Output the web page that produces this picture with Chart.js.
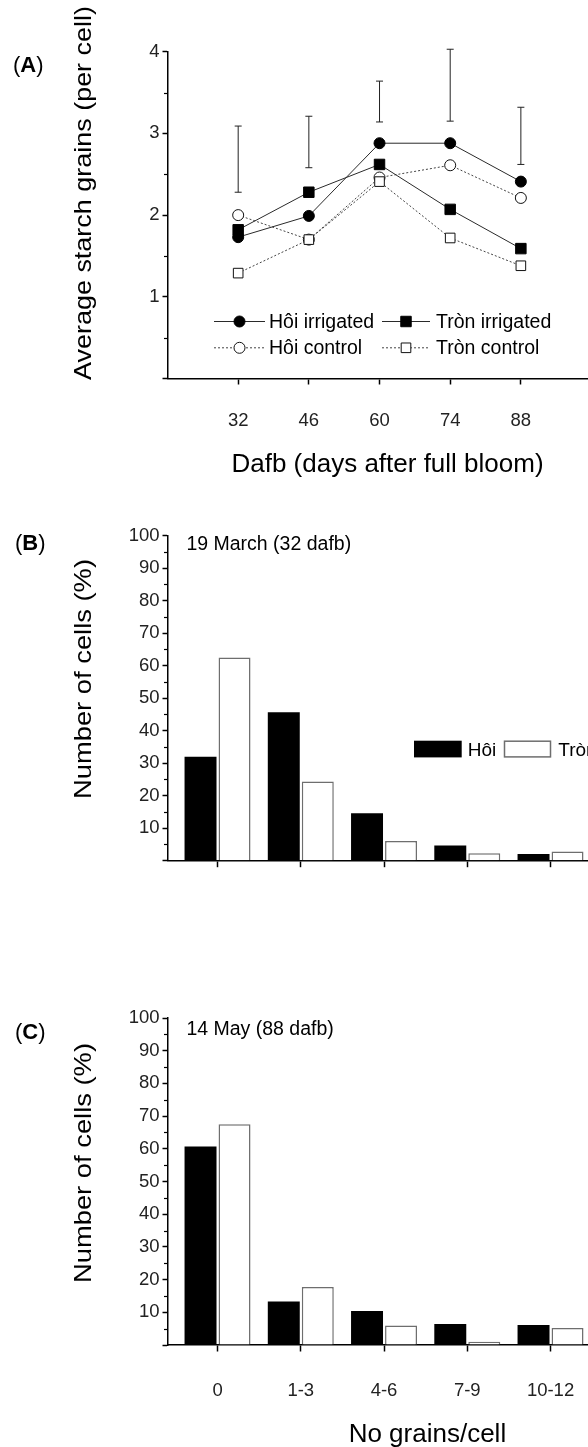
<!DOCTYPE html>
<html>
<head>
<meta charset="utf-8">
<script src="https://cdn.jsdelivr.net/npm/chart.js@4.4.1/dist/chart.umd.min.js"></script>
<style>
  html, body { margin: 0; padding: 0; background: #fff; overflow: hidden; }
  body { width: 588px; height: 1447px; position: relative; }
  canvas { position: absolute; left: 0; }
</style>
</head>
<body>
<canvas id="chart-a" width="588" height="490" style="top:0px"></canvas>
<canvas id="chart-b" width="588" height="485" style="top:490px"></canvas>
<canvas id="chart-c" width="588" height="472" style="top:975px"></canvas>
<script>
// (A) average starch grains per cell
let days = [32, 46, 60, 74, 88];
let hoiIrrigated = [1.73, 1.99, 2.88, 2.88, 2.41];
let tronIrrigated = [1.82, 2.28, 2.62, 2.07, 1.59];
let hoiControl = [2.00, 1.70, 2.46, 2.61, 2.21];
let tronControl = [1.29, 1.70, 2.41, 1.72, 1.38];
let errLow = [2.28, 2.58, 3.14, 3.15, 2.62];
let errHigh = [3.09, 3.21, 3.64, 4.03, 3.32];
let yTicksA = [0, 1, 2, 3, 4];

// (B) and (C) distribution of cells by grain count
let grainClasses = ["0", "1-3", "4-6", "7-9", "10-12"];
let hoiMarch = [32.0, 45.7, 14.6, 4.7, 2.1];
let tronMarch = [62.5, 24.4, 6.1, 2.3, 2.8];
let hoiMay = [60.7, 13.3, 10.4, 6.4, 6.1];
let tronMay = [67.5, 17.7, 6.0, 1.0, 5.2];
let yTicksBar = [0, 10, 20, 30, 40, 50, 60, 70, 80, 90, 100];


let fontFamily = "'Liberation Sans', Arial, sans-serif";
Chart.defaults.font.family = fontFamily;
Chart.defaults.color = '#222';

function xy(xs, ys) {
    return xs.map((x, i) => ({ x: x, y: ys[i] }));
}

function midpoints(ticks) {
    let out = [];
    for (let i = 1; i < ticks.length; i++) out.push((ticks[i - 1] + ticks[i]) / 2);
    return out;
}

// the x axis runs off the right edge, so no room is kept for its labels
function noSidePadding(s) {
    s.paddingLeft = 0;
    s.paddingRight = 0;
}

// small outward minor ticks between the labelled ones
let minorTicks = {
    id: 'minorTicks',
    afterDraw(chart, args, opts) {
        let ctx = chart.ctx;
        let y = chart.scales.y;
        ctx.save();
        ctx.strokeStyle = '#000';
        ctx.lineWidth = 1.2;
        opts.values.forEach(v => {
            let py = Math.round(y.getPixelForValue(v)) + 0.5;
            ctx.beginPath();
            ctx.moveTo(y.right - 3.5, py);
            ctx.lineTo(y.right, py);
            ctx.stroke();
        });
        ctx.restore();
    }
};

// titles and panel letters, positions given in page pixels
let pageText = {
    id: 'pageText',
    afterDraw(chart, args, opts) {
        let ctx = chart.ctx;
        let top = opts.top;
        ctx.save();
        ctx.fillStyle = '#000';
        ctx.textBaseline = 'alphabetic';
        opts.items.forEach(t => {
            ctx.font = t.font;
            ctx.textAlign = t.align || 'left';
            if (t.rotate) {
                // the y titles are drawn a little stretched along their length
                ctx.save();
                ctx.translate(t.x, t.y - top);
                ctx.rotate(-Math.PI / 2);
                let w = ctx.measureText(t.text).width;
                ctx.scale(t.length / w, 1);
                ctx.fillText(t.text, 0, 0);
                ctx.restore();
            } else {
                ctx.fillText(t.text, t.x, t.y - top);
            }
        });
        // "(A)" with a bold letter
        let p = opts.panel;
        ctx.textAlign = 'left';
        let x = p.x;
        let y = p.y - top;
        ctx.font = '22px ' + fontFamily;
        ctx.fillText('(', x, y);
        x += ctx.measureText('(').width;
        ctx.font = 'bold 22px ' + fontFamily;
        ctx.fillText(p.letter, x, y);
        x += ctx.measureText(p.letter).width;
        ctx.font = '22px ' + fontFamily;
        ctx.fillText(')', x, y);
        ctx.restore();
    }
};

let lineLegend = {
    id: 'lineLegend',
    afterDraw(chart, args, opts) {
        let ctx = chart.ctx;
        opts.entries.forEach(e => {
            let ds = chart.data.datasets[e.index];
            ctx.save();
            ctx.strokeStyle = ds.borderColor;
            ctx.lineWidth = ds.borderWidth;
            ctx.setLineDash(ds.borderDash || []);
            ctx.beginPath();
            ctx.moveTo(e.x1, e.y + 0.5);
            ctx.lineTo(e.x2, e.y + 0.5);
            ctx.stroke();
            ctx.setLineDash([]);
            ctx.fillStyle = ds.pointBackgroundColor;
            ctx.strokeStyle = ds.pointBorderColor;
            ctx.lineWidth = ds.pointBorderWidth;
            Chart.helpers.drawPoint(ctx, {
                pointStyle: ds.pointStyle,
                radius: ds.pointRadius,
                rotation: 0,
                borderWidth: ds.pointBorderWidth
            }, (e.x1 + e.x2) / 2, e.y + 0.5);
            ctx.fillStyle = '#000';
            ctx.font = opts.font;
            ctx.textAlign = 'left';
            ctx.textBaseline = 'alphabetic';
            ctx.fillText(ds.label, e.tx, e.ty);
            ctx.restore();
        });
    }
};

let barLegend = {
    id: 'barLegend',
    afterDraw(chart, args, opts) {
        if (!opts.entries) return;
        let ctx = chart.ctx;
        let top = opts.top;
        opts.entries.forEach(e => {
            let ds = chart.data.datasets[e.index];
            ctx.save();
            ctx.fillStyle = ds.backgroundColor;
            ctx.fillRect(e.x, e.y - top, e.w, e.h);
            if (ds.borderWidth) {
                ctx.strokeStyle = ds.borderColor;
                ctx.lineWidth = ds.borderWidth;
                ctx.strokeRect(e.x + 0.5, e.y - top + 0.5, e.w - 1, e.h - 1);
            }
            ctx.fillStyle = '#000';
            ctx.font = opts.font;
            ctx.textBaseline = 'alphabetic';
            ctx.fillText(ds.label, e.tx, e.ty - top);
            ctx.restore();
        });
    }
};


// ---------- (A) ----------
let errData = [];
days.forEach((d, i) => {
    errData.push({ x: d, y: errLow[i] }, { x: d, y: errHigh[i] }, { x: d, y: null });
});

let lineConfig = {
    type: 'line',
    data: {
        datasets: [
            {
                label: 'Hôi irrigated',
                data: xy(days, hoiIrrigated),
                borderColor: '#2a2a2a',
                borderWidth: 1,
                lineTension: 0,
                pointStyle: 'circle',
                pointRadius: 5.5,
                pointBackgroundColor: '#000',
                pointBorderColor: '#000',
                pointBorderWidth: 1
            },
            {
                label: 'Tròn irrigated',
                data: xy(days, tronIrrigated),
                borderColor: '#2a2a2a',
                borderWidth: 1,
                lineTension: 0,
                pointStyle: 'rect',
                pointRadius: 7.4,
                pointBackgroundColor: '#000',
                pointBorderColor: '#000',
                pointBorderWidth: 1
            },
            {
                label: 'Tròn control',
                data: xy(days, tronControl),
                borderColor: '#444',
                borderWidth: 1,
                borderDash: [2, 2],
                lineTension: 0,
                pointStyle: 'rect',
                pointRadius: 6.8,
                pointBackgroundColor: '#fff',
                pointBorderColor: '#111',
                pointBorderWidth: 1
            },
            {
                label: 'Hôi control',
                data: xy(days, hoiControl),
                borderColor: '#444',
                borderWidth: 1,
                borderDash: [2, 2],
                lineTension: 0,
                pointStyle: 'circle',
                pointRadius: 5.5,
                pointBackgroundColor: '#fff',
                pointBorderColor: '#111',
                pointBorderWidth: 1
            },
            {
                label: '',
                data: errData,
                borderColor: '#222',
                borderWidth: 1,
                spanGaps: false,
                clip: false,
                pointStyle: 'line',
                pointRadius: 3.5,
                pointBorderColor: '#222',
                pointBorderWidth: 1
            }
        ]
    },
    options: {
        responsive: false,
        animation: false,
        devicePixelRatio: 1,
        layout: { autoPadding: false, padding: { top: 51.7, left: 0, right: 0, bottom: 0 } },
        plugins: {
            legend: { display: false },
            tooltip: { enabled: false },
            minorTicks: { values: midpoints(yTicksA) },
            lineLegend: {
                font: '19.5px ' + fontFamily,
                entries: [
                    { index: 0, x1: 214, x2: 265, y: 321, tx: 269, ty: 327.5 },
                    { index: 1, x1: 382, x2: 430, y: 321, tx: 436, ty: 327.5 },
                    { index: 3, x1: 214, x2: 265, y: 347.3, tx: 269, ty: 353.5 },
                    { index: 2, x1: 382, x2: 430, y: 347.3, tx: 436, ty: 353.5 }
                ]
            },
            pageText: {
                top: 0,
                panel: { letter: 'A', x: 13, y: 72 },
                items: [
                    { text: 'Average starch grains (per cell)', x: 90.5, y: 193, length: 374, rotate: true, align: 'center', font: '24.5px ' + fontFamily },
                    { text: 'Dafb (days after full bloom)', x: 387.5, y: 472, align: 'center', font: '26px ' + fontFamily }
                ]
            }
        },
        scales: {
            x: {
                type: 'linear',
                min: 18,
                max: 101.3,
                afterBuildTicks: s => { s.ticks = days.map(d => ({ value: d })); },
                afterFit: s => { s.height = 490 - 378.5; noSidePadding(s); },
                grid: { drawOnChartArea: false, drawTicks: true, tickLength: 6, tickColor: '#000', tickWidth: 1.5 },
                border: { display: true, color: '#000', width: 1.5 },
                ticks: { padding: 25.5, font: { size: 18.5 }, color: '#222' }
            },
            y: {
                min: 0,
                max: 4,
                afterBuildTicks: s => { s.ticks = yTicksA.map(v => ({ value: v })); },
                afterFit: s => { s.width = 167.5; },
                grid: { drawOnChartArea: false, drawTicks: true, tickLength: 5, tickColor: '#000', tickWidth: 1.5 },
                border: { display: true, color: '#000', width: 1.5 },
                ticks: {
                    padding: 3,
                    font: { size: 18.5 },
                    color: '#222',
                    callback: v => (v === 0 ? '' : v)
                }
            }
        }
    },
    plugins: [minorTicks, lineLegend, pageText]
};

let lineChart = new Chart(document.getElementById('chart-a'), lineConfig);


// ---------- (B) and (C) ----------
function barConfig(hoi, tron, top, height, areaTop, areaBottom, titleY, note, letter, showLabels) {
    let items = [
        { text: 'Number of cells (%)', x: 90.5, y: titleY, length: 240, rotate: true, align: 'center', font: '24.5px ' + fontFamily },
        { text: note.text, x: 186.4, y: note.y, font: '19.5px ' + fontFamily }
    ];
    if (showLabels) {
        items.push({ text: 'No grains/cell', x: 427.4, y: 1442, align: 'center', font: '26px ' + fontFamily });
    }
    return {
        type: 'bar',
        data: {
            datasets: [
                {
                    label: 'Hôi',
                    data: xy([1, 2, 3, 4, 5], hoi),
                    backgroundColor: '#000',
                    borderColor: '#000',
                    borderWidth: 0,
                    categoryPercentage: 0.817,
                    barPercentage: 0.94
                },
                {
                    label: 'Tròn',
                    data: xy([1, 2, 3, 4, 5], tron),
                    backgroundColor: '#fff',
                    borderColor: '#6e6e6e',
                    borderWidth: 1.5,
                    categoryPercentage: 0.817,
                    barPercentage: 0.94
                }
            ]
        },
        options: {
            responsive: false,
            animation: false,
            devicePixelRatio: 1,
            layout: { autoPadding: false, padding: { top: areaTop - top, left: 0, right: 0, bottom: 0 } },
            plugins: {
                legend: { display: false },
                tooltip: { enabled: false },
                minorTicks: { values: midpoints(yTicksBar) },
                barLegend: showLabels ? { top: top } : {
                    top: top,
                    font: '19px ' + fontFamily,
                    entries: [
                        { index: 0, x: 414, y: 740.7, w: 47.7, h: 16.7, tx: 467.7, ty: 756 },
                        { index: 1, x: 504, y: 740.7, w: 47, h: 16.7, tx: 558.3, ty: 756 }
                    ]
                },
                pageText: {
                    top: top,
                    panel: { letter: letter, x: 15, y: letter === 'B' ? 550 : 1039 },
                    items: items
                }
            },
            scales: {
                x: {
                    type: 'linear',
                    offset: false,
                    min: 0.399,
                    max: 5.45,
                    afterBuildTicks: s => { s.ticks = grainClasses.map((c, i) => ({ value: i + 1 })); },
                    afterFit: s => { s.height = height - (areaBottom - top); noSidePadding(s); },
                    grid: { offset: false, drawOnChartArea: false, drawTicks: true, tickLength: 6.5, tickColor: '#000', tickWidth: 1.5 },
                    border: { display: true, color: '#000', width: 1.5 },
                    ticks: {
                        padding: 28.3,
                        font: { size: 18.5 },
                        color: '#222',
                        callback: v => (showLabels ? grainClasses[v - 1] : '')
                    }
                },
                y: {
                    min: 0,
                    max: 100,
                    afterBuildTicks: s => { s.ticks = yTicksBar.map(v => ({ value: v })); },
                    afterFit: s => { s.width = 167.5; },
                    grid: { drawOnChartArea: false, drawTicks: true, tickLength: 5, tickColor: '#000', tickWidth: 1.5 },
                    border: { display: true, color: '#000', width: 1.5 },
                    ticks: {
                        padding: 3,
                        font: { size: 18.5 },
                        color: '#222',
                        callback: v => (v === 0 ? '' : v)
                    }
                }
            }
        },
        plugins: [minorTicks, barLegend, pageText]
    };
}

let barChartB = new Chart(document.getElementById('chart-b'),
    barConfig(hoiMarch, tronMarch, 490, 485, 535.7, 860.7, 679, { text: '19 March (32 dafb)', y: 550 }, 'B', false));

let barChartC = new Chart(document.getElementById('chart-c'),
    barConfig(hoiMay, tronMay, 975, 472, 1018, 1345, 1163, { text: '14 May (88 dafb)', y: 1035 }, 'C', true));
</script>
</body>
</html>
